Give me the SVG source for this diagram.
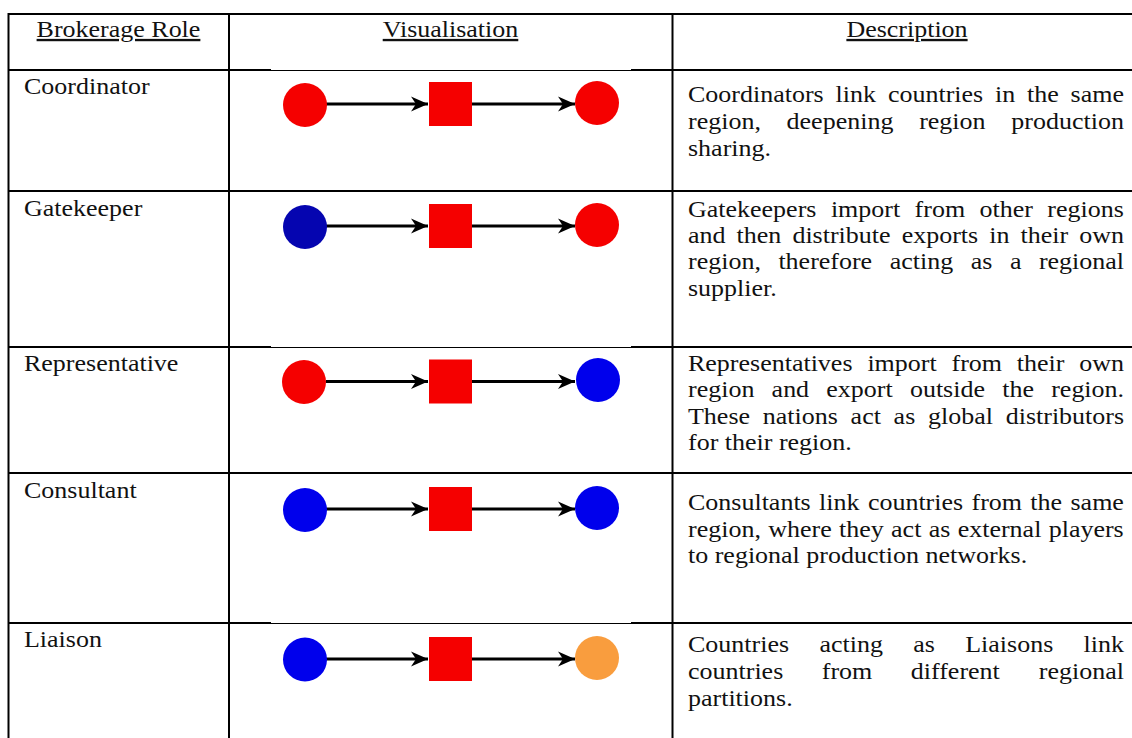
<svg xmlns="http://www.w3.org/2000/svg" width="1132" height="738" viewBox="0 0 1132 738">
<style>
  text { font-family: "Liberation Serif", "Times New Roman", serif; font-size: 26px; fill: #111; }
  .hdr { text-anchor: middle; text-decoration: underline; }
  .grid { stroke: #000; stroke-width: 2; fill: none; }
  .thin { stroke: #000; stroke-width: 1.2; fill: none; }
  .conn { stroke: #000; stroke-width: 3; fill: none; }
  .red { fill: #f50000; }
  .navy { fill: #0505b0; }
  .blue { fill: #0000ec; }
  .orange { fill: #f99d3e; }
</style>
<defs>
  <marker id="arr" markerUnits="userSpaceOnUse" markerWidth="20" markerHeight="18" viewBox="-18 -9 20 18" refX="0" refY="0" orient="auto">
    <path d="M0,0 L-17,-7.5 L-12,0 L-17,7.5 Z" fill="#000"/>
  </marker>
</defs>
<rect width="1132" height="738" fill="#fff"/>

<g id="table-grid">
  <line class="grid" x1="8" y1="14" x2="1132" y2="14"/>
  <line class="grid" x1="8.5" y1="13" x2="8.5" y2="738"/>
  <line class="grid" x1="229" y1="13" x2="229" y2="738"/>
  <line class="grid" x1="672.5" y1="13" x2="672.5" y2="738"/>
  <line class="grid" x1="8" y1="70" x2="271" y2="70"/>
  <line class="thin" x1="271" y1="70.5" x2="631" y2="70.5"/>
  <line class="grid" x1="631" y1="70" x2="1132" y2="70"/>
  <line class="grid" x1="8" y1="191" x2="1132" y2="191"/>
  <line class="grid" x1="8" y1="347" x2="271" y2="347"/>
  <line class="thin" x1="271" y1="347.5" x2="631" y2="347.5"/>
  <line class="grid" x1="631" y1="347" x2="1132" y2="347"/>
  <line class="grid" x1="8" y1="473" x2="1132" y2="473"/>
  <line class="grid" x1="8" y1="623" x2="271" y2="623"/>
  <line class="thin" x1="271" y1="623.5" x2="631" y2="623.5"/>
  <line class="grid" x1="631" y1="623" x2="1132" y2="623"/>
</g>

<g id="texts" transform="scale(1,0.9)">
<g id="header">
  <text class="hdr" x="118.5" y="41.1">Brokerage Role</text>
  <text class="hdr" x="450.5" y="41.1">Visualisation</text>
  <text class="hdr" x="907" y="41.1">Description</text>
</g>

<g id="row-coordinator">
  <text x="24" y="104.4">Coordinator</text>
  <text y="112.8"><tspan x="688">Coordinators</tspan><tspan x="835.6">link</tspan><tspan x="887.9">countries</tspan><tspan x="995">in</tspan><tspan x="1027">the</tspan><tspan x="1070.6">same</tspan></text>
  <text y="143.3"><tspan x="688">region,</tspan><tspan x="786.6">deepening</tspan><tspan x="919.2">region</tspan><tspan x="1011.3">production</tspan></text>
  <text x="688" y="173.9">sharing.</text>
</g>

<g id="row-gatekeeper">
  <text x="24" y="240">Gatekeeper</text>
  <text y="240.6"><tspan x="688">Gatekeepers</tspan><tspan x="830.9">import</tspan><tspan x="914.6">from</tspan><tspan x="979.5">other</tspan><tspan x="1047.3">regions</tspan></text>
  <text y="270"><tspan x="688">and</tspan><tspan x="736.6">then</tspan><tspan x="792.4">distribute</tspan><tspan x="901.7">exports</tspan><tspan x="989.2">in</tspan><tspan x="1020.5">their</tspan><tspan x="1079.2">own</tspan></text>
  <text y="299.4"><tspan x="688">region,</tspan><tspan x="778.4">therefore</tspan><tspan x="889.7">acting</tspan><tspan x="970.7">as</tspan><tspan x="1009.9">a</tspan><tspan x="1038.9">regional</tspan></text>
  <text x="688" y="328.9">supplier.</text>
</g>

<g id="row-representative">
  <text x="24" y="411.7">Representative</text>
  <text y="411.7"><tspan x="688">Representatives</tspan><tspan x="867.4">import</tspan><tspan x="951.5">from</tspan><tspan x="1016.8">their</tspan><tspan x="1079.2">own</tspan></text>
  <text y="441.1"><tspan x="688">region</tspan><tspan x="771.6">and</tspan><tspan x="826.3">export</tspan><tspan x="909.9">outside</tspan><tspan x="1002.2">the</tspan><tspan x="1051.2">region.</tspan></text>
  <text y="470.6"><tspan x="688">These</tspan><tspan x="762.8">nations</tspan><tspan x="850.6">act</tspan><tspan x="893.6">as</tspan><tspan x="928">global</tspan><tspan x="1005.7">distributors</tspan></text>
  <text x="688" y="500">for their region.</text>
</g>

<g id="row-consultant">
  <text x="24" y="552.8">Consultant</text>
  <text y="567.2"><tspan x="688">Consultants</tspan><tspan x="819.1">link</tspan><tspan x="867.9">countries</tspan><tspan x="971.5">from</tspan><tspan x="1030.3">the</tspan><tspan x="1070.5">same</tspan></text>
  <text y="596.7"><tspan x="688">region,</tspan><tspan x="768.2">where</tspan><tspan x="839">they</tspan><tspan x="891.1">act</tspan><tspan x="928.7">as</tspan><tspan x="957.7">external</tspan><tspan x="1048.7">players</tspan></text>
  <text x="688" y="626.1">to regional production networks.</text>
</g>

<g id="row-liaison">
  <text x="24" y="719.4">Liaison</text>
  <text y="725"><tspan x="688">Countries</tspan><tspan x="819.4">acting</tspan><tspan x="913.2">as</tspan><tspan x="965.2">Liaisons</tspan><tspan x="1083.6">link</tspan></text>
  <text y="754.4"><tspan x="688">countries</tspan><tspan x="821.8">from</tspan><tspan x="910.8">different</tspan><tspan x="1038.8">regional</tspan></text>
  <text x="688" y="783.9">partitions.</text>
</g>
</g>

<g id="connectors">
  <line class="conn" x1="326" y1="104" x2="428" y2="104" marker-end="url(#arr)"/>
  <line class="conn" x1="472" y1="104" x2="575" y2="104" marker-end="url(#arr)"/>
  <line class="conn" x1="326" y1="226" x2="428" y2="226" marker-end="url(#arr)"/>
  <line class="conn" x1="472" y1="226" x2="575" y2="226" marker-end="url(#arr)"/>
  <line class="conn" x1="326" y1="381.5" x2="428" y2="381.5" marker-end="url(#arr)"/>
  <line class="conn" x1="472" y1="381.5" x2="575" y2="381.5" marker-end="url(#arr)"/>
  <line class="conn" x1="326" y1="509" x2="428" y2="509" marker-end="url(#arr)"/>
  <line class="conn" x1="472" y1="509" x2="575" y2="509" marker-end="url(#arr)"/>
  <line class="conn" x1="326" y1="659" x2="428" y2="659" marker-end="url(#arr)"/>
  <line class="conn" x1="472" y1="659" x2="575" y2="659" marker-end="url(#arr)"/>
</g>

<g id="coord-src"><circle class="red" cx="305" cy="105" r="22"/></g>
<g id="coord-broker"><rect class="red" x="429" y="82" width="43" height="44"/></g>
<g id="coord-dst"><circle class="red" cx="597" cy="103" r="22"/></g>

<g id="gate-src"><circle class="navy" cx="305" cy="227" r="22"/></g>
<g id="gate-broker"><rect class="red" x="429" y="204" width="43" height="44"/></g>
<g id="gate-dst"><circle class="red" cx="597" cy="225" r="22"/></g>

<g id="rep-src"><circle class="red" cx="304" cy="382" r="22"/></g>
<g id="rep-broker"><rect class="red" x="429" y="359.5" width="43" height="44"/></g>
<g id="rep-dst"><circle class="blue" cx="598" cy="380" r="22"/></g>

<g id="cons-src"><circle class="blue" cx="305" cy="510" r="22"/></g>
<g id="cons-broker"><rect class="red" x="429" y="487" width="43" height="44"/></g>
<g id="cons-dst"><circle class="blue" cx="597" cy="508" r="22"/></g>

<g id="liai-src"><circle class="blue" cx="305" cy="659.5" r="22"/></g>
<g id="liai-broker"><rect class="red" x="429" y="637" width="43" height="44"/></g>
<g id="liai-dst"><circle class="orange" cx="597" cy="658" r="22"/></g>
</svg>
